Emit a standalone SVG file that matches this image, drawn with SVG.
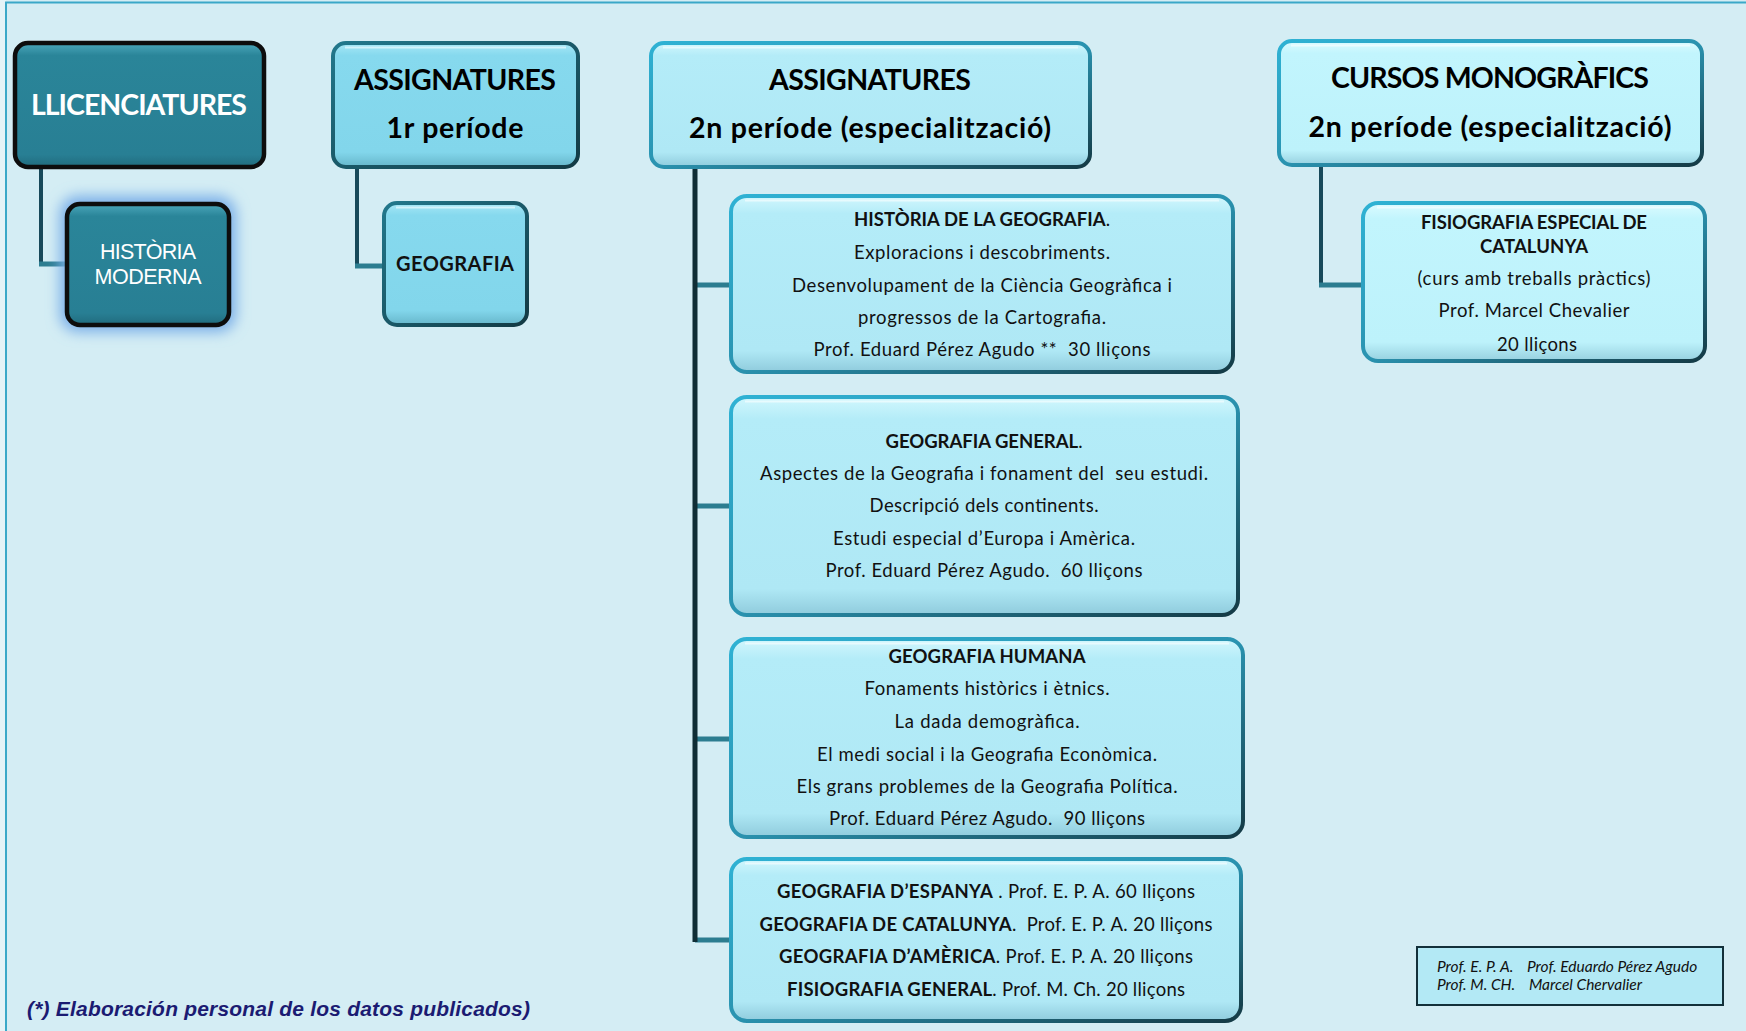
<svg xmlns="http://www.w3.org/2000/svg" width="1746" height="1031" viewBox="0 0 1746 1031">
<defs>
  <linearGradient id="gLightFill" x1="0" y1="0" x2="0" y2="1">
    <stop offset="0" stop-color="#d2f7fd"/>
    <stop offset="0.1" stop-color="#b4ecf8"/>
    <stop offset="0.88" stop-color="#afe8f5"/>
    <stop offset="1" stop-color="#8fcbdc"/>
  </linearGradient>
  <linearGradient id="gPaleFill" x1="0" y1="0" x2="0" y2="1">
    <stop offset="0" stop-color="#dcfbff"/>
    <stop offset="0.1" stop-color="#c2f5fd"/>
    <stop offset="0.88" stop-color="#bdf2fb"/>
    <stop offset="1" stop-color="#96d0df"/>
  </linearGradient>
  <linearGradient id="gMedFill" x1="0" y1="0" x2="0" y2="1">
    <stop offset="0" stop-color="#a8e8f6"/>
    <stop offset="0.1" stop-color="#86d9ee"/>
    <stop offset="0.88" stop-color="#82d6eb"/>
    <stop offset="1" stop-color="#66b6ca"/>
  </linearGradient>
  <linearGradient id="gDarkFill" x1="0" y1="0" x2="0" y2="1">
    <stop offset="0" stop-color="#4ba7bb"/>
    <stop offset="0.1" stop-color="#2a8599"/>
    <stop offset="0.9" stop-color="#287f94"/>
    <stop offset="1" stop-color="#216b7d"/>
  </linearGradient>
  <linearGradient id="gEdge" x1="0" y1="0" x2="1" y2="1">
    <stop offset="0" stop-color="#2fb2d4"/>
    <stop offset="0.5" stop-color="#2a93b0"/>
    <stop offset="1" stop-color="#143a45"/>
  </linearGradient>
  <linearGradient id="gEdgeMed" x1="0" y1="0" x2="1" y2="1">
    <stop offset="0" stop-color="#22788c"/>
    <stop offset="1" stop-color="#123a44"/>
  </linearGradient>
  <filter id="glow" x="-30%" y="-30%" width="160%" height="160%">
    <feGaussianBlur stdDeviation="7"/>
  </filter>
  <style>
    .txt { font-family: Lato, "Open Sans", "Noto Sans", sans-serif; fill: #111; text-anchor: middle; }
    .hdr { font-size: 28.5px; font-weight: bold; fill: #000; }
    .body { font-size: 18.5px; }
    .b { font-weight: bold; }
    .light { fill: url(#gLightFill); stroke: url(#gEdge); stroke-width: 4; }
    .pale { fill: url(#gPaleFill); stroke: url(#gEdge); stroke-width: 4; }
    .med { fill: url(#gMedFill); stroke: url(#gEdgeMed); stroke-width: 4; }
    .dark { fill: url(#gDarkFill); stroke: #0d0d0d; stroke-width: 4.5; }
    .hl { fill: none; stroke: #ffffff; stroke-opacity: 0.55; stroke-width: 2; }
    .conn-v { fill: none; stroke: #17495a; stroke-width: 4; }
    .conn-h { fill: none; stroke: #2c7d90; stroke-width: 5; }
    .trunk { fill: none; stroke: #0f2d35; stroke-width: 5; }
    .legend { font-family: Lato, "Open Sans", sans-serif; font-style: italic; font-size: 15.5px; fill: #111; }
  </style>
</defs>

<rect x="0" y="0" width="1746" height="1031" fill="#d4edf4"/>
<rect x="0" y="0" width="6" height="1031" fill="#e4f3f7"/>
<path d="M6 1031 V2.5 H1746" fill="none" stroke="#3aa8c8" stroke-width="2"/>

<g id="connectors">
  <path class="conn-v" d="M41 168 V264"/>
  <path class="conn-h" d="M39 264 H66"/>
  <path class="conn-v" d="M357 168 V266"/>
  <path class="conn-h" d="M355 266 H383"/>
  <path class="conn-h" d="M695 285 H730"/>
  <path class="conn-h" d="M695 506 H730"/>
  <path class="conn-h" d="M695 739 H730"/>
  <path class="conn-h" d="M695 940 H730"/>
  <path class="trunk" d="M695 168 V942"/>
  <path class="conn-v" d="M1321 167 V285"/>
  <path class="conn-h" d="M1319 285 H1361"/>
</g>

<g id="node-llicenciatures">
  <rect class="dark" x="15" y="43" width="249" height="124" rx="13"/>
  <text class="txt hdr" x="139" y="115" style="fill:#fff" textLength="216">LLICENCIATURES</text>
</g>

<g id="node-historia-moderna">
  <rect x="60" y="196" width="176" height="136" rx="18" fill="#79aee8" filter="url(#glow)"/>
  <rect class="dark" x="67" y="204" width="162" height="121" rx="13"/>
  <text x="148" y="259" font-family="Liberation Sans, Arial, sans-serif" font-size="21.5" fill="#fff" text-anchor="middle" textLength="96">HISTÒRIA</text>
  <text x="148" y="284" font-family="Liberation Sans, Arial, sans-serif" font-size="21.5" fill="#fff" text-anchor="middle" textLength="107">MODERNA</text>
</g>

<g id="node-assignatures-1r">
  <rect class="med" x="333" y="43" width="245" height="124" rx="13"/>
  <path class="hl" d="M345 47.5 H566"/>
  <text class="txt hdr" x="455" y="90" textLength="202">ASSIGNATURES</text>
  <text class="txt hdr" x="455" y="138" textLength="137">1r període</text>
</g>

<g id="node-geografia">
  <rect class="med" x="384" y="203" width="143" height="122" rx="13"/>
  <path class="hl" d="M396 207.5 H515"/>
  <text class="txt body b" x="455" y="271" style="font-size:20px" textLength="118">GEOGRAFIA</text>
</g>

<g id="node-assignatures-2n">
  <rect class="light" x="651" y="43" width="439" height="124" rx="13"/>
  <path class="hl" d="M663 47.5 H1078"/>
  <text class="txt hdr" x="870" y="90" textLength="202">ASSIGNATURES</text>
  <text class="txt hdr" x="870" y="138" textLength="362">2n període (especialització)</text>
</g>

<g id="node-historia-geografia">
  <rect class="light" x="731" y="196" width="502" height="176" rx="16"/>
  <path class="hl" d="M745 200.5 H1219"/>
  <text class="txt body" x="982" y="226" textLength="256"><tspan class="b">HISTÒRIA DE LA GEOGRAFIA</tspan>.</text>
  <text class="txt body" x="982" y="259" textLength="256">Exploracions i descobriments.</text>
  <text class="txt body" x="982" y="292" textLength="380">Desenvolupament de la Ciència Geogràfica i</text>
  <text class="txt body" x="982" y="324" textLength="248">progressos de la Cartografia.</text>
  <text class="txt body" x="982" y="356" textLength="337" xml:space="preserve">Prof. Eduard Pérez Agudo **  30 lliçons</text>
</g>

<g id="node-geografia-general">
  <rect class="light" x="731" y="397" width="507" height="218" rx="16"/>
  <path class="hl" d="M745 401.5 H1224"/>
  <text class="txt body" x="984" y="448" textLength="197"><tspan class="b">GEOGRAFIA GENERAL</tspan>.</text>
  <text class="txt body" x="984" y="480" textLength="448" xml:space="preserve">Aspectes de la Geografia i fonament del  seu estudi.</text>
  <text class="txt body" x="984" y="512" textLength="229">Descripció dels continents.</text>
  <text class="txt body" x="984" y="545" textLength="302">Estudi especial d’Europa i Amèrica.</text>
  <text class="txt body" x="984" y="577" textLength="317" xml:space="preserve">Prof. Eduard Pérez Agudo.  60 lliçons</text>
</g>

<g id="node-geografia-humana">
  <rect class="light" x="731" y="639" width="512" height="198" rx="16"/>
  <path class="hl" d="M745 643.5 H1229"/>
  <text class="txt body b" x="987" y="663" textLength="197">GEOGRAFIA HUMANA</text>
  <text class="txt body" x="987" y="695" textLength="245">Fonaments històrics i ètnics.</text>
  <text class="txt body" x="987" y="728" textLength="185">La dada demogràfica.</text>
  <text class="txt body" x="987" y="761" textLength="340">El medi social i la Geografia Econòmica.</text>
  <text class="txt body" x="987" y="793" textLength="381">Els grans problemes de la Geografia Política.</text>
  <text class="txt body" x="987" y="825" textLength="316" xml:space="preserve">Prof. Eduard Pérez Agudo.  90 lliçons</text>
</g>

<g id="node-altres-geografies">
  <rect class="light" x="731" y="859" width="510" height="162" rx="16"/>
  <path class="hl" d="M745 863.5 H1227"/>
  <text class="txt body" x="986" y="898" textLength="418"><tspan class="b">GEOGRAFIA D’ESPANYA</tspan> . Prof. E. P. A. 60 lliçons</text>
  <text class="txt body" x="986" y="931" textLength="453" xml:space="preserve"><tspan class="b">GEOGRAFIA DE CATALUNYA</tspan>.  Prof. E. P. A. 20 lliçons</text>
  <text class="txt body" x="986" y="963" textLength="414"><tspan class="b">GEOGRAFIA D’AMÈRICA</tspan>. Prof. E. P. A. 20 lliçons</text>
  <text class="txt body" x="986" y="996" textLength="398"><tspan class="b">FISIOGRAFIA GENERAL</tspan>. Prof. M. Ch. 20 lliçons</text>
</g>

<g id="node-cursos-monografics">
  <rect class="pale" x="1279" y="41" width="423" height="124" rx="13"/>
  <path class="hl" d="M1291 45.5 H1690"/>
  <text class="txt hdr" x="1490" y="88" textLength="318">CURSOS MONOGRÀFICS</text>
  <text class="txt hdr" x="1490" y="137" textLength="363">2n període (especialització)</text>
</g>

<g id="node-fisiografia-catalunya">
  <rect class="pale" x="1363" y="203" width="342" height="158" rx="15"/>
  <path class="hl" d="M1377 207.5 H1691"/>
  <text class="txt body b" x="1534" y="229" textLength="226">FISIOGRAFIA ESPECIAL DE</text>
  <text class="txt body b" x="1534" y="253" textLength="108">CATALUNYA</text>
  <text class="txt body" x="1534" y="285" textLength="233">(curs amb treballs pràctics)</text>
  <text class="txt body" x="1534" y="317" textLength="191">Prof. Marcel Chevalier</text>
  <text class="txt body" x="1537" y="351" textLength="80">20 lliçons</text>
</g>

<g id="legend">
  <rect x="1417" y="947" width="306" height="58" fill="#b3e9f5" stroke="#12303a" stroke-width="2"/>
  <text class="legend" x="1437" y="972">Prof. E. P. A.</text>
  <text class="legend" x="1527" y="972">Prof. Eduardo Pérez Agudo</text>
  <text class="legend" x="1437" y="990">Prof. M. CH.</text>
  <text class="legend" x="1529" y="990">Marcel Chervalier</text>
</g>

<text x="27" y="1016" font-family="Liberation Sans, Arial, sans-serif" font-weight="bold" font-style="italic" font-size="21" fill="#1b1b72" textLength="503">(*) Elaboración personal de los datos publicados)</text>
</svg>
